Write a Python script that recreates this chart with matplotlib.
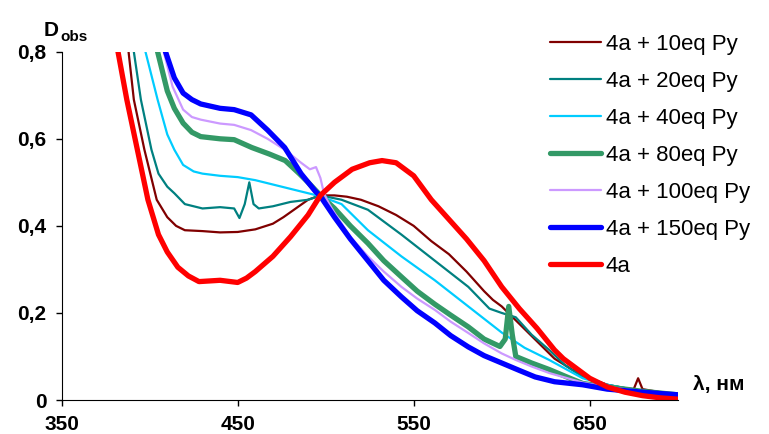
import numpy as np
import matplotlib
matplotlib.use("Agg")
import matplotlib.pyplot as plt

plt.rcParams['font.family'] = ['Liberation Sans', 'DejaVu Sans']

# 4a + 10eq Py
wl_10 = [385, 388, 391, 397, 404, 410, 415, 420, 430, 440, 450, 460, 470, 476, 483, 490, 497,
         505, 512, 520, 530, 540, 550, 560, 570, 580, 590, 595, 600, 610, 620, 630, 640, 650,
         660, 670, 675, 677.5, 680, 690, 700]
d_10 = [0.88, 0.80, 0.69, 0.575, 0.46, 0.42, 0.40, 0.39, 0.388, 0.385, 0.386, 0.392, 0.405, 0.42,
        0.44, 0.46, 0.47, 0.47, 0.467, 0.46, 0.445, 0.425, 0.40, 0.365, 0.335, 0.295, 0.25, 0.23,
        0.215, 0.175, 0.135, 0.095, 0.07, 0.05, 0.035, 0.027, 0.025, 0.05, 0.025, 0.018, 0.013]

# 4a + 20eq Py
wl_20 = [388, 391, 395, 401, 405, 410, 414, 420, 430, 440, 448, 451, 454, 456.6, 459, 462, 470,
         480, 490, 497, 509, 524, 543, 562, 581, 593, 600, 608, 617, 627, 636, 646, 660, 680, 700]
d_20 = [0.88, 0.80, 0.69, 0.575, 0.52, 0.49, 0.475, 0.45, 0.44, 0.443, 0.44, 0.418, 0.45, 0.50,
        0.45, 0.44, 0.445, 0.455, 0.46, 0.47, 0.46, 0.437, 0.38, 0.32, 0.26, 0.21, 0.20, 0.19,
        0.15, 0.115, 0.08, 0.053, 0.035, 0.02, 0.012]

# 4a + 40eq Py
wl_40 = [394, 397.6, 404.5, 410, 414, 419, 425, 430, 440, 450, 460, 467, 480, 490, 497, 509,
         524, 543, 562, 581, 600, 613, 627, 646, 660, 680, 700]
d_40 = [0.88, 0.80, 0.69, 0.61, 0.575, 0.54, 0.525, 0.52, 0.515, 0.512, 0.505, 0.498, 0.485,
        0.475, 0.468, 0.45, 0.39, 0.33, 0.275, 0.215, 0.155, 0.12, 0.092, 0.05, 0.035, 0.02, 0.012]

# 4a + 80eq Py
wl_80 = [400, 404.5, 410, 414, 419, 424, 429, 440, 448, 458, 468, 477, 485, 490, 497, 505, 514,
         524, 533, 543, 552, 562, 571, 581, 590, 599, 602, 604, 606, 608, 617, 627, 637, 646,
         660, 680, 700]
d_80 = [0.90, 0.80, 0.71, 0.67, 0.636, 0.615, 0.605, 0.60, 0.598, 0.58, 0.565, 0.55, 0.52, 0.50,
        0.47, 0.44, 0.40, 0.36, 0.32, 0.283, 0.25, 0.22, 0.195, 0.168, 0.14, 0.123, 0.14, 0.215,
        0.15, 0.10, 0.085, 0.07, 0.053, 0.038, 0.03, 0.02, 0.012]

# 4a + 100eq Py
wl_100 = [404, 408, 413, 419, 424, 429, 440, 448, 457.6, 467, 476.7, 486, 491, 494.5, 497, 499,
          502, 505, 514, 524, 533, 543, 552, 562, 571, 581, 590, 600, 608, 617, 627, 646, 660,
          680, 700]
d_100 = [0.88, 0.80, 0.72, 0.667, 0.65, 0.644, 0.635, 0.632, 0.62, 0.60, 0.575, 0.545, 0.53,
         0.535, 0.51, 0.475, 0.45, 0.43, 0.375, 0.33, 0.295, 0.26, 0.233, 0.207, 0.18, 0.154,
         0.13, 0.107, 0.092, 0.077, 0.062, 0.04, 0.03, 0.02, 0.012]

# 4a + 150eq Py
wl_150 = [406, 409, 414, 419, 424, 429, 440, 448, 457.6, 467, 476.7, 486, 494, 497, 505, 514,
          524, 533, 543, 552, 562, 571, 581, 590, 600, 610, 619, 630, 646, 660, 680, 700]
d_150 = [0.88, 0.80, 0.74, 0.705, 0.69, 0.68, 0.67, 0.667, 0.655, 0.62, 0.58, 0.52, 0.48, 0.468,
         0.42, 0.37, 0.32, 0.275, 0.237, 0.205, 0.177, 0.148, 0.122, 0.102, 0.085, 0.068, 0.053,
         0.042, 0.035, 0.025, 0.018, 0.012]

# 4a
wl_4a = [378, 382, 387, 393, 399, 405, 410, 416, 422, 428, 440, 450, 455, 460, 470, 480, 490,
         497, 505, 515, 525, 532, 540, 550, 560, 570, 580, 590, 600, 610, 620, 630, 635, 640,
         650, 660, 670, 680, 690, 700]
d_4a = [0.95, 0.80, 0.69, 0.575, 0.46, 0.38, 0.34, 0.305, 0.285, 0.272, 0.275, 0.27, 0.28,
        0.295, 0.33, 0.375, 0.425, 0.47, 0.50, 0.53, 0.545, 0.55, 0.545, 0.515, 0.46, 0.415,
        0.37, 0.32, 0.26, 0.21, 0.165, 0.115, 0.095, 0.08, 0.05, 0.03, 0.018, 0.01, 0.005, 0.002]

series = [
    (wl_10, d_10, '4a + 10eq Py', '#800000', 1.6),
    (wl_20, d_20, '4a + 20eq Py', '#008080', 1.6),
    (wl_40, d_40, '4a + 40eq Py', '#00CCFF', 1.6),
    (wl_80, d_80, '4a + 80eq Py', '#339966', 3.8),
    (wl_100, d_100, '4a + 100eq Py', '#CC99FF', 1.6),
    (wl_150, d_150, '4a + 150eq Py', '#0000FF', 3.8),
    (wl_4a, d_4a, '4a', '#FF0000', 3.8),
]

fig = plt.figure(figsize=(7.69, 4.34), dpi=100)
ax = fig.add_axes([0.0802, 0.0783, 0.8011, 0.8025])

for wl, d, lab, col, lw in series:
    ax.plot(wl, d, color=col, lw=lw, label=lab, solid_capstyle='round')

ax.set_xlim(350, 700)
ax.set_ylim(0, 0.8)
ax.set_xticks([350, 450, 550, 650])
ax.set_yticks([0, 0.2, 0.4, 0.6, 0.8])
ax.set_yticklabels(['0', '0,2', '0,4', '0,6', '0,8'])
for lbl in ax.get_xticklabels() + ax.get_yticklabels():
    lbl.set_fontweight('bold')
    lbl.set_fontsize(15)
ax.tick_params(length=4, width=1, direction='out', pad=7)
ax.spines['top'].set_visible(False)
ax.spines['right'].set_visible(False)

fig.text(0.057, 0.93, 'D', fontsize=15, fontweight='bold', va='center', ha='left')
fig.text(0.079, 0.915, 'obs', fontsize=11, fontweight='bold', va='center', ha='left')
fig.text(0.901, 0.113, 'λ, нм', fontsize=15, fontweight='bold', va='center', ha='left')

leg = fig.legend(loc='upper left', bbox_to_anchor=(550 / 769, 1 - 34 / 434), frameon=False,
                 fontsize=16, handlelength=2.3, handletextpad=0.2, labelspacing=0.72,
                 borderpad=0, borderaxespad=0)

fig.savefig('out.png', dpi=100)
